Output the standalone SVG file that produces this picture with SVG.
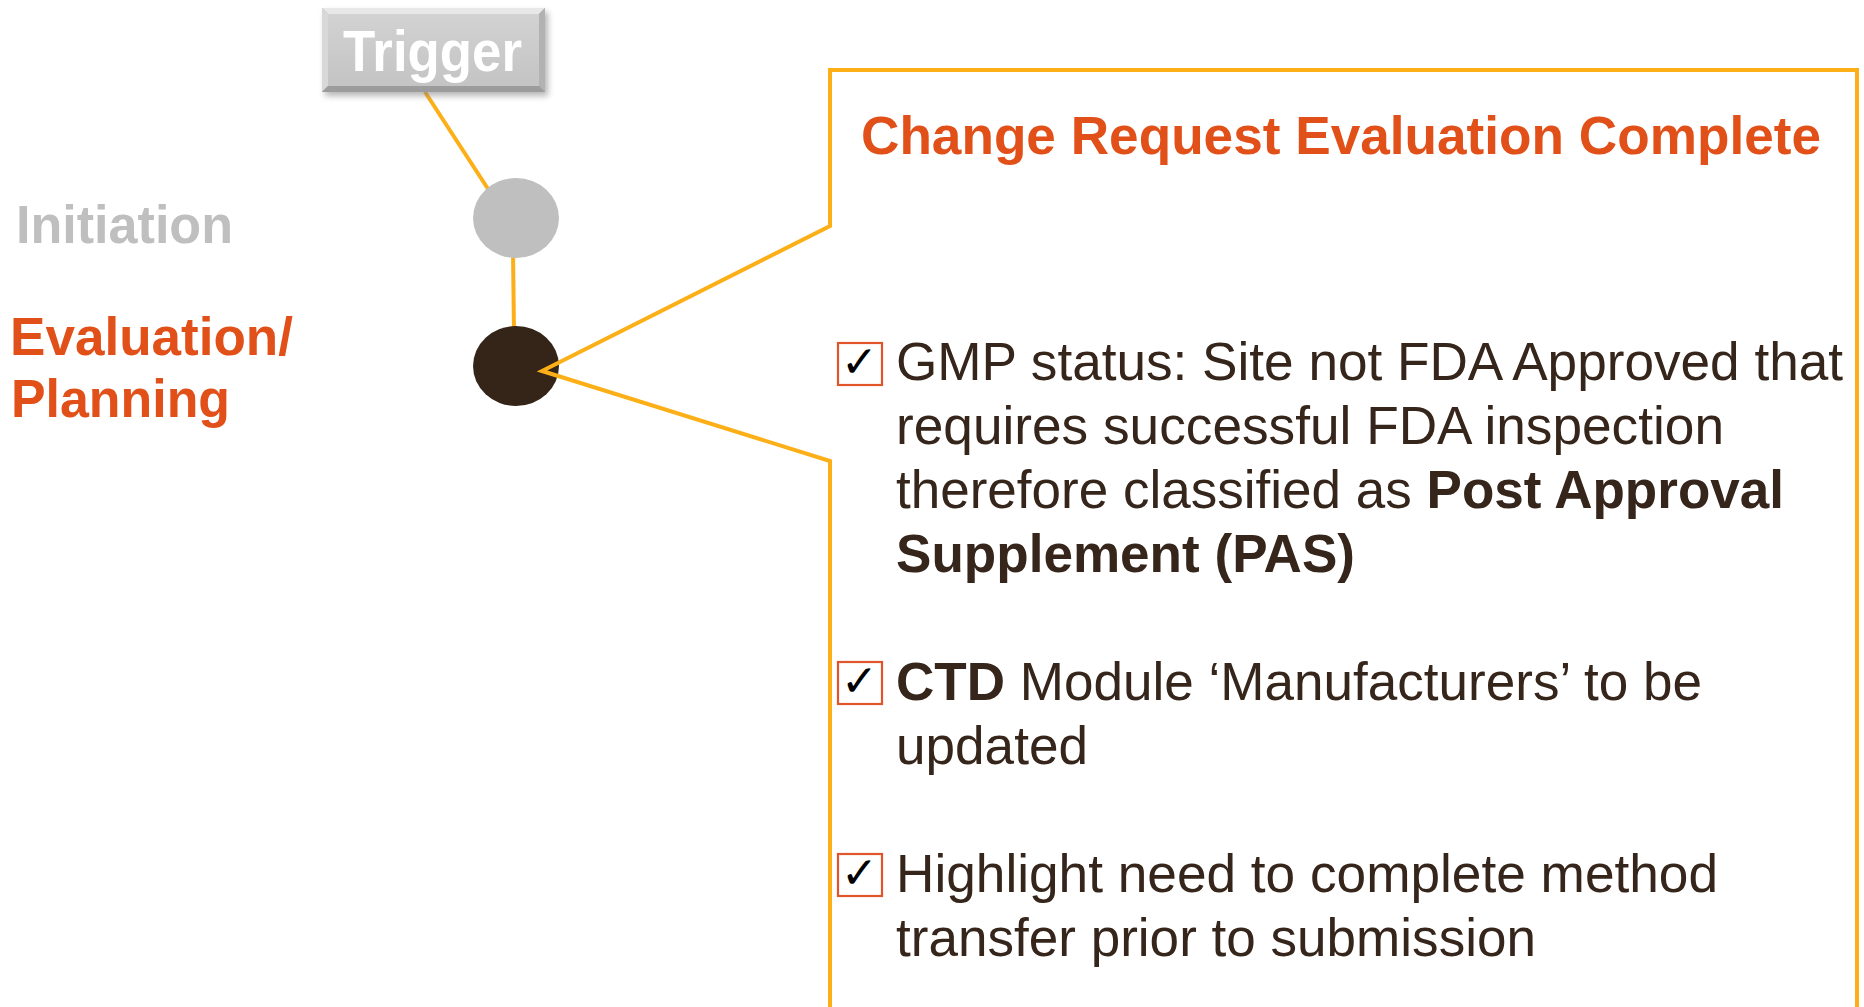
<svg xmlns="http://www.w3.org/2000/svg" width="1864" height="1007" viewBox="0 0 1864 1007">
  <defs>
    <filter id="btnShadow" x="-10%" y="-20%" width="130%" height="160%">
      <feGaussianBlur stdDeviation="3"/>
    </filter>
    <linearGradient id="faceGrad" x1="0" y1="0" x2="0" y2="1">
      <stop offset="0" stop-color="#D2D2D2"/>
      <stop offset="1" stop-color="#C4C4C4"/>
    </linearGradient>
  </defs>
  <style>
    .sans { font-family: "Liberation Sans", Arial, Helvetica, sans-serif; }
    .phase { font-size: 54px; font-weight: bold; }
    .title { font-size: 54px; font-weight: bold; fill: #E2501A; }
    .body { font-size: 53px; fill: #35251A; }
    .b { font-weight: bold; }
    .link { stroke: #FCAF17; stroke-width: 4; fill: none; }
    .box { fill: #FFFFFF; stroke: #E2542A; stroke-width: 2.2; }
    .tick { font-family: "DejaVu Sans", sans-serif; font-size: 44px; font-weight: bold; fill: #000000; }
  </style>

  <rect width="1864" height="1007" fill="#FFFFFF"/>

  <!-- connectors between the phase markers -->
  <g id="connectors">
    <line class="link" x1="425" y1="92" x2="490" y2="192"/>
    <line class="link" x1="513" y1="250" x2="514" y2="334"/>
  </g>

  <!-- Trigger button -->
  <g id="node-trigger">
    <rect x="325" y="12" width="223" height="84" fill="#7A7A7A" opacity="0.55" filter="url(#btnShadow)"/>
    <rect x="322" y="8" width="223" height="84" fill="#A9A9A9"/>
    <polygon points="322,8 545,8 539,14 328,14" fill="#E8E8E8"/>
    <polygon points="322,8 328,14 328,86 322,92" fill="#D8D8D8"/>
    <polygon points="545,8 545,92 539,86 539,14" fill="#B2B2B2"/>
    <polygon points="322,92 545,92 539,86 328,86" fill="#9C9C9C"/>
    <rect x="328" y="14" width="211" height="72" fill="url(#faceGrad)"/>
    <text class="sans" x="343" y="71" font-size="58" font-weight="bold" fill="#FFFFFF" textLength="179" lengthAdjust="spacingAndGlyphs">Trigger</text>
  </g>

  <!-- Initiation phase -->
  <g id="node-initiation">
    <text class="sans phase" x="16" y="243" fill="#BFBFBF" textLength="217" lengthAdjust="spacingAndGlyphs">Initiation</text>
    <ellipse cx="516" cy="218" rx="43" ry="40" fill="#BFBFBF"/>
  </g>

  <!-- Evaluation / Planning phase -->
  <g id="node-evaluation">
    <text class="sans phase" fill="#E2501A">
      <tspan x="10" y="355" textLength="283" lengthAdjust="spacingAndGlyphs">Evaluation/</tspan>
      <tspan x="11" y="417" textLength="219" lengthAdjust="spacingAndGlyphs">Planning</tspan>
    </text>
    <ellipse cx="516" cy="366" rx="43" ry="40" fill="#352518"/>
  </g>

  <!-- Callout for the evaluation outcome -->
  <g id="node-callout">
    <path class="link" stroke-linejoin="miter" d="M830,1012 L830,461 L542,371 L830,226 L830,70 L1857,70 L1857,1012"/>
    <text class="sans title" x="861" y="154" textLength="960" lengthAdjust="spacingAndGlyphs">Change Request Evaluation Complete</text>

    <g id="item-gmp">
      <rect class="box" x="838" y="343" width="44" height="42"/>
      <text class="tick" x="841" y="377">✓</text>
      <text class="sans body">
        <tspan x="896" y="380" textLength="947" lengthAdjust="spacingAndGlyphs">GMP status: Site not FDA Approved that</tspan>
        <tspan x="896" y="444" textLength="828" lengthAdjust="spacingAndGlyphs">requires successful FDA inspection</tspan>
      </text>
      <text class="sans body" x="896" y="508" textLength="888" lengthAdjust="spacingAndGlyphs">therefore classified as <tspan class="b">Post Approval</tspan></text>
      <text class="sans body b" x="896" y="572" textLength="459" lengthAdjust="spacingAndGlyphs">Supplement (PAS)</text>
    </g>

    <g id="item-ctd">
      <rect class="box" x="838" y="662" width="44" height="42"/>
      <text class="tick" x="841" y="696">✓</text>
      <text class="sans body" x="896" y="700" textLength="806" lengthAdjust="spacingAndGlyphs"><tspan class="b">CTD</tspan> Module ‘Manufacturers’ to be</text>
      <text class="sans body" x="896" y="764" textLength="192" lengthAdjust="spacingAndGlyphs">updated</text>
    </g>

    <g id="item-method">
      <rect class="box" x="838" y="854" width="44" height="42"/>
      <text class="tick" x="841" y="888">✓</text>
      <text class="sans body">
        <tspan x="896" y="892" textLength="822" lengthAdjust="spacingAndGlyphs">Highlight need to complete method</tspan>
        <tspan x="896" y="956" textLength="640" lengthAdjust="spacingAndGlyphs">transfer prior to submission</tspan>
      </text>
    </g>
  </g>
</svg>
